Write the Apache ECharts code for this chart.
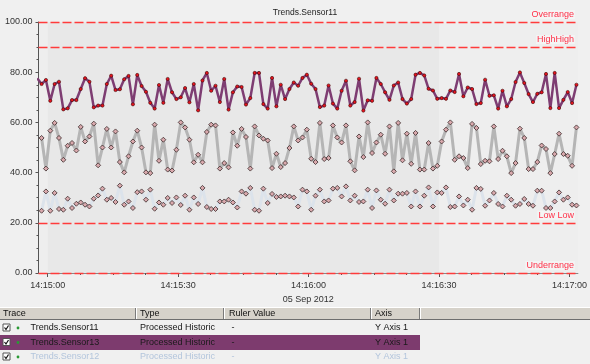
<!DOCTYPE html>
<html><head><meta charset="utf-8">
<script src="https://cdn.jsdelivr.net/npm/echarts@6/dist/echarts.min.js"></script>
<style>html,body{margin:0;padding:0;background:#f0f0f0;}#c{width:590px;height:364px;}</style>
</head><body><div id="c"></div>
<script>
// ---------- data ----------
const chartTitle = 'Trends.Sensor11';
const dateLabel = '05 Sep 2012';
const seriesNames = ['Trends.Sensor12', 'Trends.Sensor11', 'Trends.Sensor13'];
// sample times: seconds relative to 14:15:00, one sample per second
const grayStartSec = -1.4;
const lightStartSec = -1.4;
const purpleStartSec = -2.4;
// x tick labels (seconds after 14:15:00) and minor ticks
const xTickSeconds = [0, 30, 60, 90, 120];
const xMinorTickSeconds = [0, 7.5, 15, 22.5, 30, 37.5, 45, 52.5, 60, 67.5, 75, 82.5, 90, 97.5, 105, 112.5, 120];

const sensor13 = [77.6,
  75.3, 76.9, 68.6, 75.3, 76.2, 65.2, 65.6, 68.9, 68.9, 73.3, 77.6, 76.2, 66.0, 66.7, 66.7, 75.3, 78.6, 72.9, 73.2, 77.2, 78.5, 67.2, 78.9, 74.5, 72.2, 67.8, 65.5, 74.9, 67.8, 77.3,
  72.0, 69.3, 70.0, 73.7, 68.0, 75.3, 64.8, 76.7, 79.7, 72.6, 74.6, 68.1, 77.3, 65.1, 72.0, 74.3, 74.1, 67.1, 69.7, 79.7, 79.7, 67.3, 65.5, 77.7, 66.4, 75.0, 69.3, 73.3, 75.9, 74.6, 77.7, 79.0,
  75.4, 73.3, 66.1, 66.7, 74.7, 67.5, 65.5, 72.6, 76.6, 66.7, 68.1, 77.4, 64.7, 68.8, 68.6, 77.7, 75.3, 72.0, 69.0, 74.7, 75.9, 69.3, 67.5, 69.3, 79.0, 79.7, 78.7, 73.4, 72.7, 69.4, 69.7, 69.4,
  72.7, 72.1, 79.3, 70.4, 73.9, 73.3, 67.3, 67.7, 77.0, 70.6, 70.8, 65.5, 72.6, 66.4, 69.3, 76.1, 79.9, 75.7, 71.3, 68.1, 71.4, 72.0, 79.3, 65.7, 79.7, 65.7, 69.0, 72.1, 67.7, 75.0];

const sensor11 = [
  53.8, 41.6, 56.7, 59.8, 53.8, 45.1, 50.7, 51.8, 48.8, 58.2, 52.4, 54.4, 59.5, 42.9, 50.0, 57.4, 50.0, 56.4, 44.2, 40.1, 46.5, 52.4, 56.7, 50.0, 40.1, 39.8, 59.1, 44.7, 53.1, 41.2,
  40.8, 49.1, 60.0, 58.0, 53.1, 44.1, 47.1, 44.1, 56.2, 59.1, 58.8, 41.6, 43.8, 42.1, 56.0, 50.7, 57.4, 54.2, 41.6, 58.4, 54.8, 53.5, 52.8, 41.8, 47.5, 42.2, 43.8, 49.8, 58.4, 52.8, 54.0, 57.1,
  45.5, 44.2, 59.8, 45.4, 45.8, 58.8, 54.0, 52.0, 58.8, 44.5, 40.9, 54.4, 46.2, 60.0, 47.8, 52.0, 55.1, 47.5, 58.4, 40.5, 59.8, 44.9, 55.5, 43.5, 55.8, 41.2, 41.2, 51.8, 41.6, 42.7, 52.4, 57.1,
  60.0, 45.1, 46.5, 45.8, 41.8, 59.4, 57.8, 43.4, 44.7, 44.5, 58.4, 45.4, 48.7, 46.5, 39.8, 43.8, 57.5, 53.8, 41.4, 41.4, 44.2, 50.8, 49.4, 39.8, 47.4, 55.5, 47.4, 46.7, 42.7, 58.0];

const sensor12 = [
  24.8, 32.5, 24.8, 31.9, 25.5, 25.2, 29.6, 25.9, 27.6, 28.1, 27.2, 26.5, 29.6, 30.9, 33.6, 29.2, 29.9, 28.3, 34.8, 27.2, 28.5, 25.9, 32.2, 32.5, 29.2, 33.2, 25.6, 28.1, 27.2, 29.9,
  27.9, 30.1, 27.1, 30.8, 25.2, 30.1, 27.5, 33.9, 26.3, 25.5, 25.5, 28.5, 28.5, 29.2, 28.1, 26.1, 32.5, 31.6, 33.9, 25.2, 24.8, 33.6, 27.9, 31.5, 30.3, 30.5, 30.8, 30.5, 30.1, 26.5, 33.2, 32.5,
  25.2, 30.8, 33.2, 28.5, 28.9, 33.6, 33.9, 30.5, 34.5, 28.9, 30.8, 28.3, 28.5, 33.2, 25.9, 32.9, 29.2, 27.6, 33.2, 28.9, 31.6, 31.6, 31.9, 26.5, 32.5, 26.5, 30.8, 34.1, 26.5, 32.1, 31.9, 34.1,
  26.3, 26.5, 30.5, 26.9, 29.2, 25.2, 33.9, 33.5, 26.8, 28.9, 31.9, 27.5, 26.5, 30.8, 29.2, 26.8, 27.5, 29.5, 27.5, 26.8, 32.8, 32.8, 25.9, 25.9, 28.5, 32.1, 29.2, 30.1, 27.2, 26.9];

const limitNames = ['Overrange', 'HighHigh', 'Low Low', 'Underrange'];
const limitValues = [100, 90, 20, 0];

const tableHeaders = ['Trace', 'Type', 'Ruler Value', 'Axis'];
const traceNames = ['Trends.Sensor11', 'Trends.Sensor13', 'Trends.Sensor12'];
const traceTypes = ['Processed Historic', 'Processed Historic', 'Processed Historic'];
const rulerValues = ['-', '-', '-'];
const traceAxes = ['Y Axis 1', 'Y Axis 1', 'Y Axis 1'];

// ---------- build ----------
const baseH = 14, baseM = 15, baseS = 0;
function fmtTime(sec) {
  const total = baseH * 3600 + baseM * 60 + baseS + Math.round(sec);
  const h = Math.floor(total / 3600), m = Math.floor((total % 3600) / 60), s = total % 60;
  const p = n => String(n).padStart(2, '0');
  return p(h) + ':' + p(m) + ':' + p(s);
}
function toPairs(arr, startSec) {
  return arr.map((v, i) => [+(startSec + i).toFixed(2), v]);
}
const FONT = '"Liberation Sans", Arial, sans-serif';
const chart = echarts.init(document.getElementById('c'), null, {renderer: 'canvas'});

const diamondStyle = {color: '#d9a9ad', borderColor: '#3a2a2a', borderWidth: 0.8};
const X_MIN = -2.11, X_MAX = 121.94;

// table graphics
const g = [];
const colX = [3, 140, 229, 375];
const sepX = [135, 223, 370, 419];
g.push({type: 'rect', shape: {x: 0, y: 307, width: 590, height: 13}, style: {fill: '#d6d2ca'}});
g.push({type: 'line', shape: {x1: 0, y1: 307.5, x2: 590, y2: 307.5}, style: {stroke: '#ffffff', lineWidth: 1}});
g.push({type: 'line', shape: {x1: 0, y1: 319.5, x2: 590, y2: 319.5}, style: {stroke: '#6e6e6e', lineWidth: 1}});
sepX.forEach(x => {
  g.push({type: 'line', shape: {x1: x + 0.5, y1: 308, x2: x + 0.5, y2: 319}, style: {stroke: '#7a7a7a', lineWidth: 1}});
  g.push({type: 'line', shape: {x1: x + 1.5, y1: 308, x2: x + 1.5, y2: 319}, style: {stroke: '#ffffff', lineWidth: 1}});
});
tableHeaders.forEach((h, k) => {
  g.push({type: 'text', style: {text: h, x: colX[k], y: 314, fill: '#111', font: '9px ' + FONT, verticalAlign: 'middle'}});
});
const rowY = [328, 342.5, 357];
const rowColors = ['#151515', '#1a1a1a', '#b3c5dc'];
g.push({type: 'rect', shape: {x: 0, y: 335, width: 420, height: 15}, style: {fill: '#7d3b6e'}});
traceNames.forEach((name, r) => {
  const c = rowY[r];
  g.push({type: 'rect', shape: {x: 3, y: c - 4, width: 7, height: 7}, style: {fill: '#ffffff', stroke: '#555', lineWidth: 1}});
  g.push({type: 'polyline', shape: {points: [[4.5, c - 0.5], [6, c + 1.5], [8.5, c - 2.5]]}, style: {stroke: '#111', lineWidth: 1.2, fill: null}});
  g.push({type: 'circle', shape: {cx: 18, cy: c, r: 1.4}, style: {fill: '#2a9a34'}});
  const cells = [name, traceTypes[r], rulerValues[r], traceAxes[r]];
  const xs = [30.5, 140, 231.5, 375];
  cells.forEach((t, k) => {
    g.push({type: 'text', style: {text: t, x: xs[k], y: c, fill: rowColors[r], font: '9px ' + FONT, verticalAlign: 'middle'}});
  });
});

const option = {
  animation: false,
  backgroundColor: '#f0f0f0',
  title: {text: chartTitle, left: 300, top: 3, textAlign: 'center',
    textStyle: {fontSize: 8.5, fontWeight: 'normal', color: '#222', fontFamily: FONT}},
  grid: {left: 38.5, right: 11.5, top: 22, bottom: 91, show: true, backgroundColor: '#eeeeee', borderWidth: 0},
  xAxis: [{
    type: 'value', min: X_MIN, max: X_MAX,
    axisLine: {onZero: false, lineStyle: {color: '#888', width: 1}},
    axisTick: {show: true, length: 4, customValues: xTickSeconds, lineStyle: {color: '#555'}},
    splitLine: {show: false},
    axisLabel: {customValues: xTickSeconds, formatter: v => fmtTime(v), color: '#333', fontSize: 9, fontFamily: FONT, margin: 8},
    name: dateLabel, nameLocation: 'middle', nameGap: 19,
    nameTextStyle: {color: '#333', fontSize: 9, fontFamily: FONT}
  }, {
    type: 'value', min: X_MIN, max: X_MAX, position: 'bottom',
    axisLine: {show: false, onZero: false},
    axisTick: {show: true, length: 2, customValues: xMinorTickSeconds, lineStyle: {color: '#555'}},
    axisLabel: {show: false},
    splitLine: {show: false}
  }],
  yAxis: {
    type: 'value', min: 0, max: 100, interval: 20,
    axisLine: {show: true, onZero: false, lineStyle: {color: '#555', width: 1}},
    axisTick: {show: true, length: 3, lineStyle: {color: '#555'}},
    minorTick: {show: true, splitNumber: 4, length: 2, lineStyle: {color: '#555'}},
    splitLine: {show: false},
    axisLabel: {formatter: v => v.toFixed(2), color: '#333', fontSize: 9, fontFamily: FONT, margin: 6}
  },
  series: [
    {
      name: seriesNames[0], type: 'line', data: toPairs(sensor12, lightStartSec),
      symbol: 'diamond', symbolSize: 5, showAllSymbol: true,
      lineStyle: {color: '#dce3eb', width: 3}, itemStyle: diamondStyle, z: 2,
      markArea: {silent: true, itemStyle: {color: 'rgba(0,0,0,0.025)'}, data: [[{xAxis: 0}, {xAxis: 90}]]}
    },
    {
      name: seriesNames[1], type: 'line', data: toPairs(sensor11, grayStartSec),
      symbol: 'diamond', symbolSize: 5, showAllSymbol: true,
      lineStyle: {color: '#b5b5b5', width: 3}, itemStyle: diamondStyle, z: 3
    },
    {
      name: seriesNames[2], type: 'line', data: toPairs(sensor13, purpleStartSec),
      symbol: 'circle', symbolSize: 3.2, showAllSymbol: true, clip: true,
      lineStyle: {color: '#7e3d72', width: 2.5}, itemStyle: {color: '#e8141e', borderColor: '#3a0808', borderWidth: 0.6}, z: 4,
      markLine: {
        silent: true, symbol: 'none',
        lineStyle: {color: '#ff3b3b', type: [9, 3], width: 1.3, opacity: 1},
        emphasis: {disabled: true},
        label: {position: 'insideEndTop', formatter: '{b}', color: '#ff3048', fontSize: 9, fontFamily: FONT,
          distance: [3, 3], backgroundColor: 'rgba(248,248,248,0.6)', padding: [0, 1]},
        data: limitNames.map((n, k) => ({name: n, yAxis: limitValues[k], lineStyle: {color: '#ff3b3b'}}))
      }
    }
  ],
  graphic: g
};
chart.setOption(option);
</script></body></html>
